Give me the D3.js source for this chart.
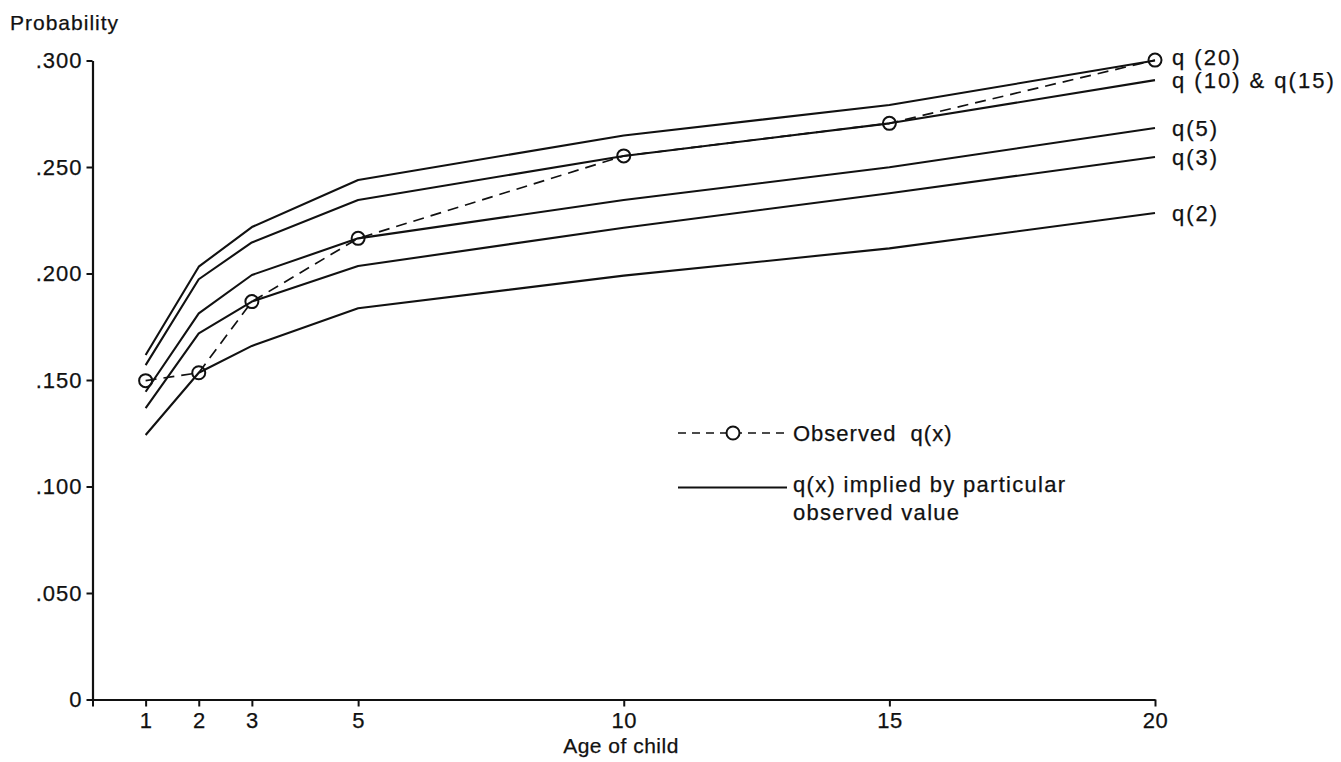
<!DOCTYPE html>
<html>
<head>
<meta charset="utf-8">
<script src="https://cdn.jsdelivr.net/npm/d3@7"></script>
<style>
  html, body { margin: 0; padding: 0; background: #fff; }
  svg { display: block; }
  text { font-family: "Liberation Sans", Arial, sans-serif; fill: #111; stroke: #111; stroke-width: 0.25px; }
</style>
</head>
<body>
<svg id="chart" width="1341" height="762"></svg>
<script>
// ---- data ----
const ages = [1, 2, 3, 5, 10, 15, 20];
const xTicks = [0, 1, 2, 3, 5, 10, 15, 20];
const xTickLabels = ["", "1", "2", "3", "5", "10", "15", "20"];
const yTicks = [0, 0.05, 0.10, 0.15, 0.20, 0.25, 0.30];
const yTickLabels = ["0", ".050", ".100", ".150", ".200", ".250", ".300"];

const observed = [0.1497, 0.1534, 0.1868, 0.2165, 0.2552, 0.2705, 0.3002];
const q20      = [0.1617, 0.2032, 0.2218, 0.2439, 0.2648, 0.2791, 0.3000];
const q10_15   = [0.1570, 0.1973, 0.2146, 0.2345, 0.2552, 0.2705, 0.2908];
const q5       = [0.1445, 0.1813, 0.1993, 0.2165, 0.2345, 0.2499, 0.2683];
const q3       = [0.1368, 0.1719, 0.1868, 0.2035, 0.2215, 0.2377, 0.2547];
const q2       = [0.1242, 0.1534, 0.1660, 0.1837, 0.1990, 0.2118, 0.2284];

const impliedSeries = [q20, q10_15, q5, q3, q2];
const impliedLabels = ["q (20)", "q (10) & q(15)", "q(5)", "q(3)", "q(2)"];

const yTitle = "Probability";
const xTitle = "Age of child";
const legendObserved = "Observed  q(x)";
const legendImplied = ["q(x) implied by particular", "observed value"];

// ---- chart ----
const svg = d3.select("#chart");
const x = d3.scaleLinear().domain([0, 20]).range([92.5, 1155]);
const y = d3.scaleLinear().domain([0, 0.3]).range([699.5, 60.5]);

const ink = "#111";
const FONT = '"Liberation Sans", Arial, sans-serif';

// axes
const xAxis = d3.axisBottom(x).tickValues(xTicks)
  .tickFormat((d, i) => xTickLabels[i]).tickSize(7).tickPadding(6).tickSizeOuter(0);
const gx = svg.append("g").attr("transform", `translate(0,${y(0)})`).call(xAxis);
gx.select(".domain").attr("stroke", ink).attr("stroke-width", 2.2);
gx.selectAll(".tick line").attr("stroke", ink).attr("stroke-width", 2);
gx.selectAll(".tick text").attr("font-size", 22).attr("fill", ink)
  .style("font-family", FONT).style("letter-spacing", "0.5px");

const yAxis = d3.axisLeft(y).tickValues(yTicks)
  .tickFormat((d, i) => yTickLabels[i]).tickSize(6).tickPadding(4).tickSizeOuter(0);
const gy = svg.append("g").attr("transform", `translate(${x(0)},0)`).call(yAxis);
gy.select(".domain").attr("stroke", ink).attr("stroke-width", 2.2);
gy.selectAll(".tick line").attr("stroke", ink).attr("stroke-width", 2);
gy.selectAll(".tick text").attr("font-size", 22).attr("fill", ink)
  .style("font-family", FONT).style("letter-spacing", "1px");

// titles
svg.append("text").attr("x", 10).attr("y", 30).attr("font-size", 21)
  .style("letter-spacing", "1px").text(yTitle);
svg.append("text").attr("x", 621).attr("y", 753).attr("text-anchor", "middle")
  .attr("font-size", 21).style("letter-spacing", "0.5px").text(xTitle);

// implied lines
const line = d3.line().x((d, i) => x(ages[i])).y(d => y(d));
svg.append("g").selectAll("path").data(impliedSeries).join("path")
  .attr("d", d => line(d)).attr("fill", "none")
  .attr("stroke", ink).attr("stroke-width", 2.1).attr("stroke-linejoin", "round");

// observed dashed line + circles
svg.append("path").attr("d", line(observed)).attr("fill", "none")
  .attr("stroke", ink).attr("stroke-width", 1.7).attr("stroke-dasharray", "11,7");
svg.append("g").selectAll("circle").data(observed).join("circle")
  .attr("cx", (d, i) => x(ages[i])).attr("cy", d => y(d)).attr("r", 6.5)
  .attr("fill", "none").attr("stroke", ink).attr("stroke-width", 2);

// right labels
svg.append("g").selectAll("text").data(impliedSeries).join("text")
  .attr("x", 1172).attr("y", (d, i) => y(d[d.length - 1]) + (i === 0 ? -3 : 0))
  .attr("dy", "0.35em").attr("font-size", 22).style("letter-spacing", "2px")
  .text((d, i) => impliedLabels[i]);

// legend
const lg = svg.append("g");
lg.append("line").attr("x1", 678).attr("x2", 787).attr("y1", 433).attr("y2", 433)
  .attr("stroke", ink).attr("stroke-width", 1.7).attr("stroke-dasharray", "8,6");
lg.append("circle").attr("cx", 733).attr("cy", 433).attr("r", 6.5)
  .attr("fill", "#fff").attr("stroke", ink).attr("stroke-width", 2);
lg.append("text").attr("x", 793).attr("y", 441).attr("font-size", 22)
  .style("letter-spacing", "1px").style("white-space", "pre").text(legendObserved);
lg.append("line").attr("x1", 678).attr("x2", 787).attr("y1", 487.5).attr("y2", 487.5)
  .attr("stroke", ink).attr("stroke-width", 2);
lg.append("text").attr("x", 793).attr("y", 491.5).attr("font-size", 22)
  .style("letter-spacing", "1.3px").text(legendImplied[0]);
lg.append("text").attr("x", 793).attr("y", 519.5).attr("font-size", 22)
  .style("letter-spacing", "1.3px").text(legendImplied[1]);
</script>
</body>
</html>
